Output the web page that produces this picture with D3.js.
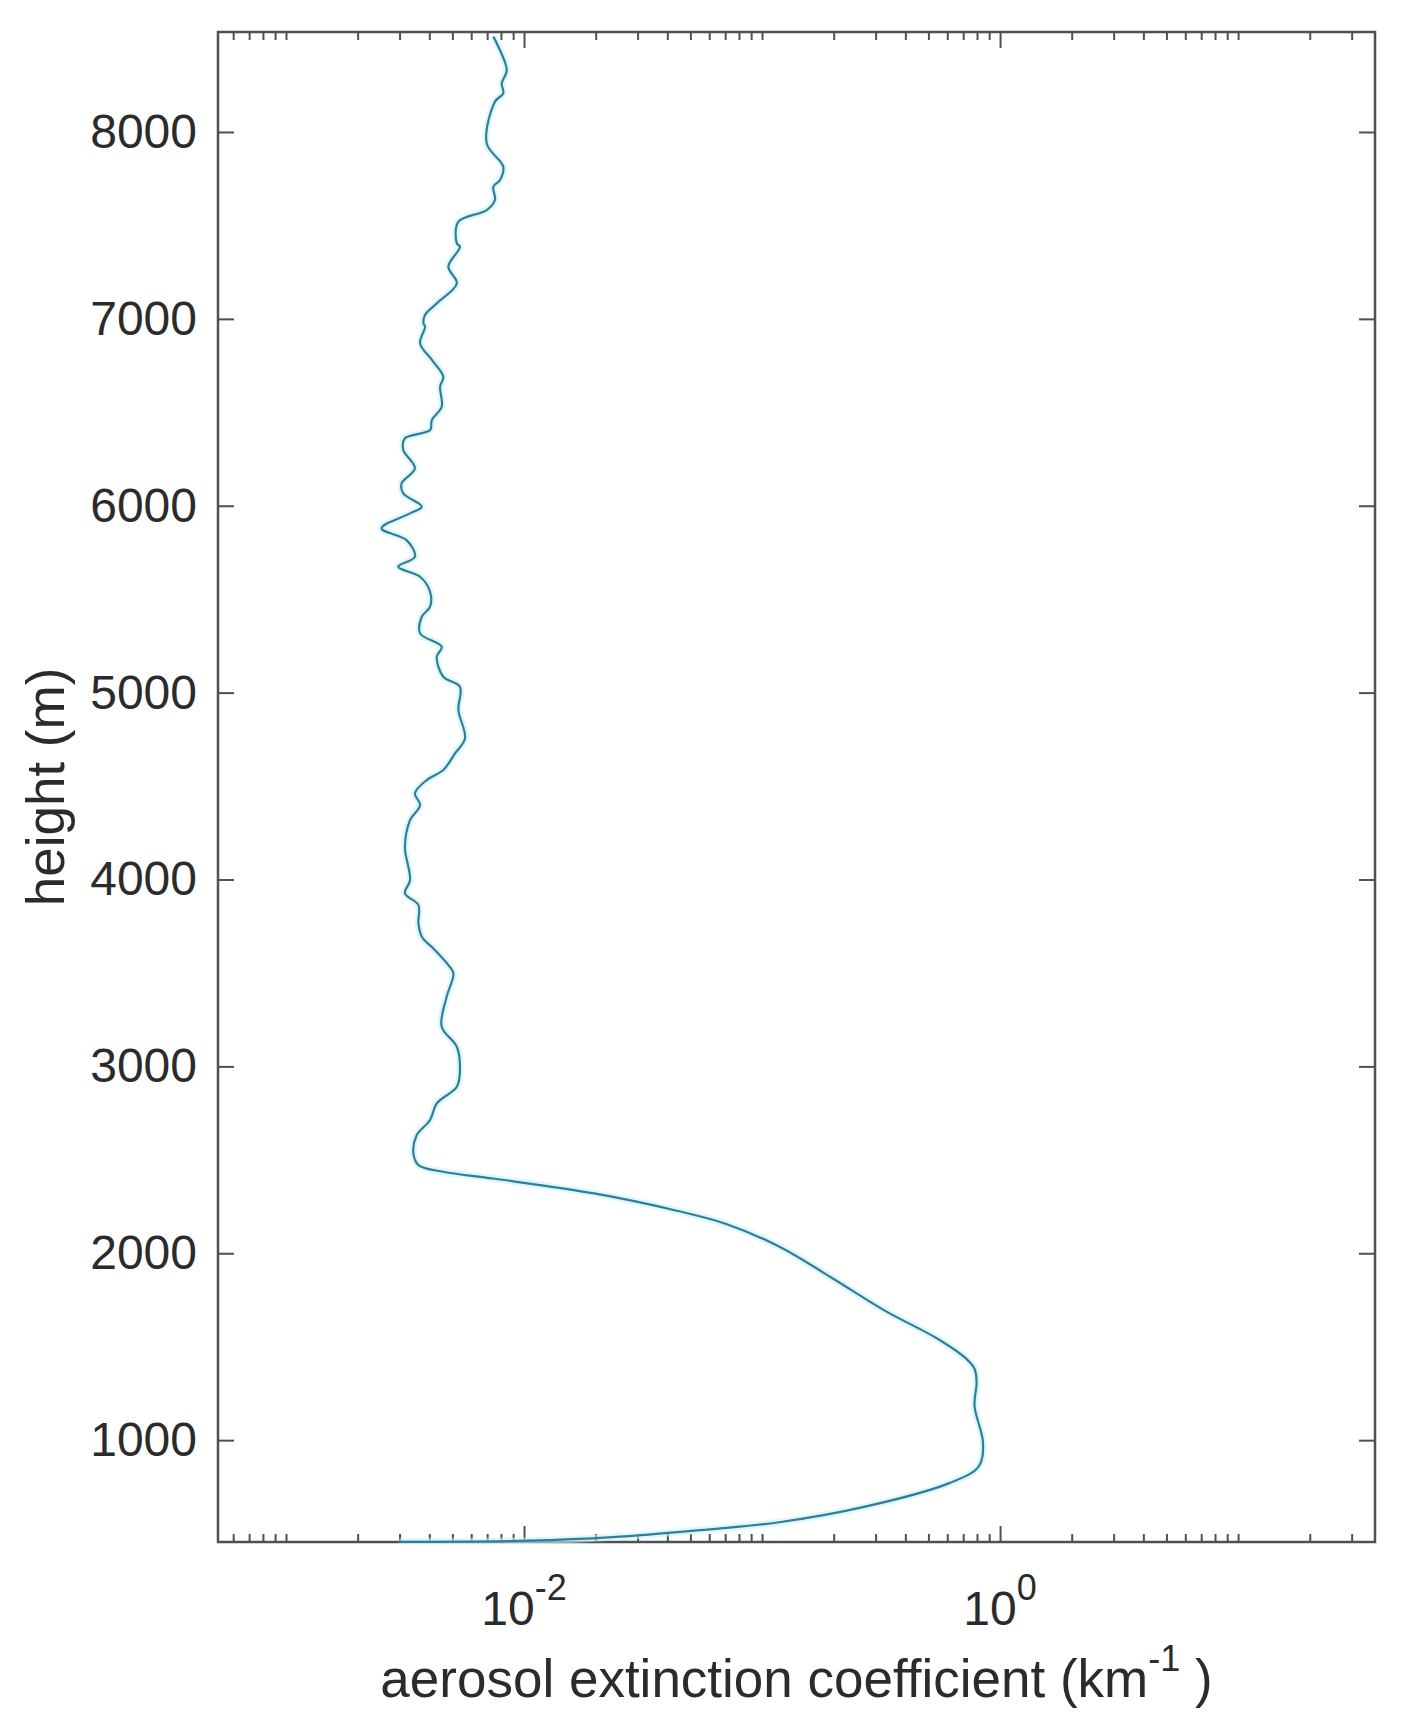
<!DOCTYPE html>
<html>
<head>
<meta charset="utf-8">
<script src="https://cdn.jsdelivr.net/npm/d3@7"></script>
<style>
  body { margin: 0; background: #fff; }
  svg { display: block; font-family: "Liberation Sans", Arial, Helvetica, sans-serif; }
</style>
</head>
<body>
<div id="chart"></div>
<script>
// profile: height (m) and extinction (km^-1)
const heights = [
  8510, 8475, 8332, 8260, 8207, 8162, 7939, 7814, 7743, 7707, 7636, 7582,
  7520, 7404, 7386, 7279, 7190, 7083, 7021, 6976, 6958, 6869,
  6780, 6690, 6637, 6530, 6459, 6405, 6361, 6298, 6200, 6120, 6066, 5995,
  5959, 5879, 5816, 5727, 5674, 5620, 5540, 5460, 5406, 5317, 5245, 5192,
  5085, 5031, 4907, 4755, 4675, 4586, 4532, 4461, 4398, 4318, 4175, 3997,
  3926, 3863, 3765, 3694, 3631, 3542,
  3498, 3372, 3212, 3105, 2980, 2891, 2802, 2713, 2632, 2534, 2472, 2436, 2400,
  2319, 2229, 2157, 2031, 1869, 1689, 1545, 1436, 1382, 1310, 1184, 986,
  860, 770, 644, 562, 517, 481, 462, 456
];
const extinction = [
  0.00743, 0.00768, 0.00846, 0.00806, 0.00818, 0.00755, 0.00697, 0.00818, 0.00793, 0.00743, 0.00755, 0.00697,
  0.00530, 0.00522, 0.00538, 0.00481, 0.00522, 0.00430, 0.00384, 0.00378, 0.00384, 0.00366,
  0.00410, 0.00458, 0.00444, 0.00451, 0.00410, 0.00403, 0.00316, 0.00311, 0.00348, 0.00306, 0.00311, 0.00372,
  0.00332, 0.00252, 0.00321, 0.00348, 0.00296, 0.00366, 0.00403, 0.00403, 0.00372, 0.00366, 0.00451, 0.00430,
  0.00458, 0.00538, 0.00530, 0.00565, 0.00513, 0.00458, 0.00390, 0.00348, 0.00366, 0.00332, 0.00316, 0.00332,
  0.00316, 0.00360, 0.00360, 0.00372, 0.00416, 0.00481,
  0.00505, 0.00473, 0.00451, 0.00522, 0.00538, 0.00522, 0.00430, 0.00403, 0.00354, 0.00343, 0.00360, 0.00458, 0.00743,
  0.0200, 0.0434, 0.0707, 0.120, 0.196, 0.332, 0.542, 0.720, 0.781, 0.797, 0.781, 0.848,
  0.814, 0.612, 0.271, 0.120, 0.0532, 0.0235, 0.0104, 0.0030
];

const yTicks = [1000, 2000, 3000, 4000, 5000, 6000, 7000, 8000];
const xMajorExp = [-2, 0];          // labelled decades
const xMinorTicks = [
  6e-4, 7e-4, 8e-4, 9e-4, 1e-3, 2e-3, 3e-3, 4e-3, 5e-3, 6e-3, 7e-3, 8e-3, 9e-3,
  2e-2, 3e-2, 4e-2, 5e-2, 6e-2, 7e-2, 8e-2, 9e-2, 1e-1,
  2e-1, 3e-1, 4e-1, 5e-1, 6e-1, 7e-1, 8e-1, 9e-1,
  2, 3, 4, 5, 6, 7, 8, 9, 10, 20, 30
];
const xLabel = "aerosol extinction coefficient (km";
const yLabel = "height (m)";

const W = 1404, H = 1728;
const box = { left: 218, right: 1375, top: 32, bottom: 1542 };

const data = heights.map((h, i) => ({ h: h, e: extinction[i] }));

const svg = d3.select("#chart").append("svg")
  .attr("width", W)
  .attr("height", H);

svg.append("rect").attr("width", W).attr("height", H).attr("fill", "#fff");

const x = d3.scaleLog().domain([5.18e-4, 37.6]).range([box.left, box.right]);
const y = d3.scaleLinear().domain([455, 8535]).range([box.bottom, box.top]);

const axisColor = "#505050";
const textColor = "#2b2b2b";

// clip for the curve
svg.append("defs").append("clipPath").attr("id", "plotclip")
  .append("rect")
  .attr("x", box.left).attr("y", box.top - 2)
  .attr("width", box.right - box.left).attr("height", box.bottom - box.top + 4);

// y axes (left + right, ticks pointing inward)
const gy = svg.append("g")
  .attr("transform", `translate(${box.left},0)`)
  .call(d3.axisLeft(y).tickValues(yTicks).tickSize(-16).tickPadding(21).tickFormat(d3.format("d")));
const gyr = svg.append("g")
  .attr("transform", `translate(${box.right},0)`)
  .call(d3.axisRight(y).tickValues(yTicks).tickSize(-16).tickFormat(""));

// x axes: minor ticks then major ticks, bottom + top
function xAxis(g, orient, vals, size) {
  const ax = orient === "bottom" ? d3.axisBottom(x) : d3.axisTop(x);
  g.call(ax.tickValues(vals).tickSize(-size).tickFormat(""));
}
const ypos = { bottom: box.bottom, top: box.top };
["bottom", "top"].forEach(o => {
  svg.append("g").attr("transform", `translate(0,${ypos[o]})`)
    .call(g => xAxis(g, o, xMinorTicks, 8));
  svg.append("g").attr("transform", `translate(0,${ypos[o]})`)
    .call(g => xAxis(g, o, xMajorExp.map(p => Math.pow(10, p)), 16));
});

svg.selectAll(".domain").remove();
svg.selectAll(".tick line").attr("stroke", axisColor).attr("stroke-width", 2);
gy.selectAll(".tick text")
  .attr("font-size", 48)
  .attr("fill", textColor)
  .attr("font-family", "Liberation Sans, Arial, sans-serif");

// box frame
svg.append("rect")
  .attr("x", box.left).attr("y", box.top)
  .attr("width", box.right - box.left).attr("height", box.bottom - box.top)
  .attr("fill", "none")
  .attr("stroke", axisColor)
  .attr("stroke-width", 2.5);

// x tick labels 10^n
xMajorExp.forEach(p => {
  const t = svg.append("text")
    .attr("x", x(Math.pow(10, p)))
    .attr("y", 1625)
    .attr("text-anchor", "middle")
    .attr("font-size", 48)
    .attr("fill", textColor);
  t.append("tspan").text("10");
  t.append("tspan").attr("font-size", 36).attr("dy", -25).text(String(p));
});

// axis labels
const xl = svg.append("text")
  .attr("x", (box.left + box.right) / 2)
  .attr("y", 1697)
  .attr("text-anchor", "middle")
  .attr("font-size", 53)
  .attr("fill", textColor);
xl.append("tspan").text(xLabel);
xl.append("tspan").attr("font-size", 36).attr("dy", -26).text("-1");
xl.append("tspan").attr("dy", 26).text("\u00a0)");

svg.append("text")
  .attr("transform", `translate(64,${(box.top + box.bottom) / 2}) rotate(-90)`)
  .attr("text-anchor", "middle")
  .attr("font-size", 53)
  .attr("fill", textColor)
  .text(yLabel);

// profile line
const line = d3.line()
  .x(d => x(d.e))
  .y(d => y(d.h))
  .curve(d3.curveCatmullRom.alpha(0.5));

const plot = svg.append("g").attr("clip-path", "url(#plotclip)");
plot.append("path")
  .datum(data)
  .attr("fill", "none")
  .attr("stroke", "#c9f1f7")
  .attr("stroke-opacity", 0.6)
  .attr("stroke-width", 7)
  .attr("d", line);
plot.append("path")
  .datum(data)
  .attr("fill", "none")
  .attr("stroke", "#2f7f98")
  .attr("stroke-width", 2.2)
  .attr("stroke-linejoin", "round")
  .attr("d", line);
</script>
</body>
</html>
